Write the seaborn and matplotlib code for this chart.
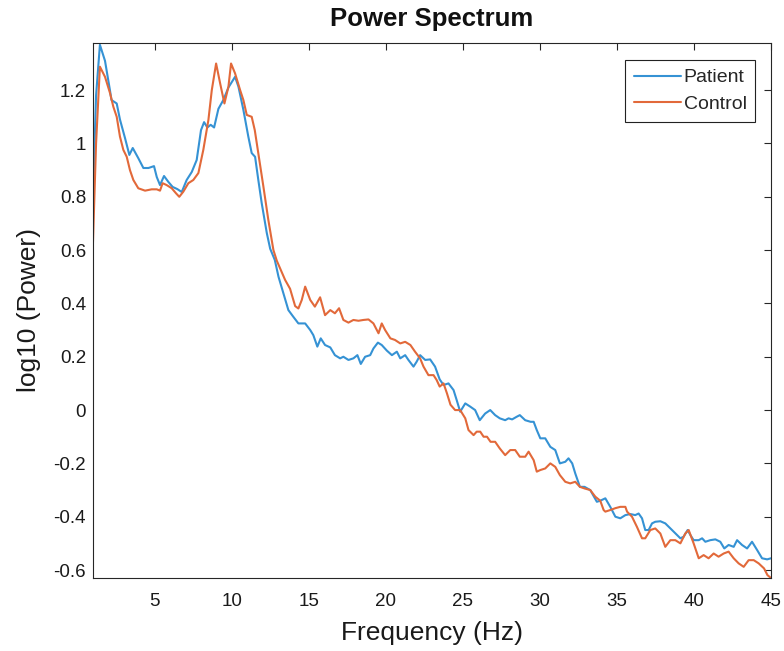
import numpy as np
import pandas as pd
import matplotlib
matplotlib.use("Agg")
import matplotlib.pyplot as plt
import seaborn as sns

# ---- data ----
patient_freq = [1.0, 1.2, 1.45, 1.78, 2.1, 2.2, 2.54, 2.75, 3.08, 3.36, 3.58, 3.94, 4.27, 4.6, 4.96,
                5.14, 5.35, 5.61, 5.89, 6.17, 6.47, 6.76, 7.08, 7.41, 7.73, 8.01, 8.21, 8.42, 8.64,
                8.86, 9.14, 9.46, 9.79, 10.22, 10.44, 10.76, 11.08, 11.3, 11.52, 11.73, 11.95,
                12.28, 12.5, 12.8, 13.04, 13.36, 13.68, 14.0, 14.33, 14.77, 15.1, 15.3, 15.56,
                15.78, 16.06, 16.4, 16.7, 17.04, 17.25, 17.58, 17.9, 18.16, 18.38, 18.66, 18.99,
                19.2, 19.49, 19.74, 20.07, 20.4, 20.72, 20.94, 21.26, 21.47, 21.8, 22.0, 22.23,
                22.56, 22.88, 23.2, 23.5, 23.75, 24.07, 24.4, 24.6, 24.83, 25.16, 25.48, 25.8,
                26.1, 26.45, 26.78, 27.1, 27.4, 27.75, 27.97, 28.2, 28.5, 28.7, 29.05, 29.4,
                29.6, 29.8, 30.03, 30.35, 30.68, 31.0, 31.3, 31.65, 31.86, 32.1, 32.3, 32.6,
                32.9, 33.27, 33.7, 33.92, 34.25, 34.57, 34.9, 35.22, 35.55, 35.87, 36.19, 36.41,
                36.63, 36.84, 37.06, 37.28, 37.49, 37.82, 38.14, 38.47, 38.79, 39.12, 39.33,
                39.59, 39.77, 39.98, 40.31, 40.53, 40.74, 41.06, 41.39, 41.71, 41.97, 42.25,
                42.58, 42.8, 43.12, 43.45, 43.77, 44.1, 44.42, 44.75, 45.0]
patient_power = [0.80, 1.18, 1.37, 1.31, 1.20, 1.163, 1.15, 1.09, 1.02, 0.957, 0.983, 0.945, 0.908,
                 0.908, 0.915, 0.874, 0.844, 0.878, 0.856, 0.837, 0.829, 0.818, 0.863, 0.893, 0.938,
                 1.05, 1.08, 1.06, 1.07, 1.06, 1.13, 1.163, 1.21, 1.25, 1.213, 1.126, 1.026, 0.964,
                 0.95, 0.863, 0.776, 0.664, 0.605, 0.563, 0.50, 0.438, 0.375, 0.35, 0.325, 0.325,
                 0.30, 0.281, 0.238, 0.269, 0.244, 0.235, 0.206, 0.194, 0.20, 0.188, 0.194, 0.206,
                 0.173, 0.20, 0.206, 0.231, 0.253, 0.244, 0.223, 0.206, 0.219, 0.194, 0.206, 0.188,
                 0.163, 0.181, 0.206, 0.188, 0.19, 0.163, 0.115, 0.094, 0.10, 0.075, 0.038, -0.006,
                 0.025, 0.013, 0.0, -0.038, -0.013, 0.0, -0.019, -0.031, -0.038, -0.031, -0.035,
                 -0.025, -0.019, -0.038, -0.044, -0.044, -0.075, -0.106, -0.106, -0.138, -0.15,
                 -0.20, -0.194, -0.181, -0.20, -0.238, -0.288, -0.288, -0.30, -0.344, -0.34,
                 -0.331, -0.363, -0.40, -0.406, -0.394, -0.39, -0.394, -0.388, -0.406, -0.45,
                 -0.45, -0.425, -0.419, -0.417, -0.425, -0.444, -0.463, -0.481, -0.475, -0.45,
                 -0.469, -0.488, -0.488, -0.481, -0.494, -0.488, -0.485, -0.494, -0.519, -0.506,
                 -0.513, -0.488, -0.506, -0.519, -0.494, -0.525, -0.556, -0.56, -0.556]

control_freq = [1.0, 1.2, 1.45, 1.78, 2.1, 2.32, 2.54, 2.75, 2.97, 3.19, 3.4, 3.62, 3.94, 4.38, 4.81,
                5.14, 5.35, 5.52, 5.78, 6.11, 6.39, 6.6, 6.86, 7.19, 7.51, 7.84, 8.16, 8.49, 8.71,
                8.99, 9.25, 9.53, 9.79, 9.96, 10.22, 10.55, 10.76, 10.98, 11.3, 11.5, 11.73, 12.06,
                12.38, 12.71, 12.93, 13.14, 13.47, 13.79, 14.12, 14.33, 14.55, 14.77, 15.1, 15.4,
                15.74, 16.06, 16.4, 16.7, 16.97, 17.25, 17.58, 17.9, 18.23, 18.55, 18.88, 19.2,
                19.53, 19.74, 19.96, 20.3, 20.6, 20.94, 21.26, 21.6, 21.9, 22.23, 22.45, 22.77,
                23.1, 23.3, 23.5, 23.75, 23.97, 24.2, 24.5, 24.83, 25.16, 25.37, 25.7, 25.9,
                26.13, 26.35, 26.57, 26.8, 27.1, 27.4, 27.75, 28.08, 28.4, 28.7, 29.05, 29.27,
                29.6, 29.8, 30.03, 30.35, 30.68, 31.0, 31.3, 31.65, 31.97, 32.3, 32.6, 32.9,
                33.27, 33.6, 33.92, 34.14, 34.25, 34.57, 34.9, 35.22, 35.55, 35.66, 35.98, 36.3,
                36.63, 36.84, 37.17, 37.49, 37.82, 38.14, 38.47, 38.79, 39.12, 39.44, 39.66,
                39.98, 40.31, 40.63, 40.95, 41.28, 41.6, 41.93, 42.25, 42.58, 42.9, 43.23, 43.55,
                43.88, 44.2, 44.55, 44.77, 45.0]
control_power = [0.63, 1.0, 1.288, 1.25, 1.19, 1.138, 1.10, 1.026, 0.976, 0.95, 0.90, 0.863, 0.832,
                 0.823, 0.828, 0.828, 0.823, 0.851, 0.844, 0.832, 0.813, 0.80, 0.819, 0.851, 0.863,
                 0.889, 0.976, 1.088, 1.20, 1.30, 1.226, 1.15, 1.213, 1.30, 1.263, 1.20, 1.163,
                 1.107, 1.10, 1.05, 0.963, 0.838, 0.713, 0.60, 0.56, 0.532, 0.488, 0.455, 0.39,
                 0.381, 0.413, 0.463, 0.413, 0.388, 0.423, 0.356, 0.375, 0.363, 0.382, 0.338,
                 0.328, 0.338, 0.335, 0.338, 0.34, 0.325, 0.288, 0.325, 0.30, 0.269, 0.263, 0.25,
                 0.256, 0.244, 0.219, 0.194, 0.163, 0.131, 0.131, 0.113, 0.088, 0.10, 0.063, 0.02,
                 0.0, 0.0, -0.031, -0.075, -0.094, -0.081, -0.081, -0.10, -0.10, -0.119, -0.119,
                 -0.144, -0.169, -0.15, -0.15, -0.175, -0.175, -0.156, -0.188, -0.231, -0.225,
                 -0.219, -0.20, -0.213, -0.244, -0.269, -0.275, -0.269, -0.288, -0.294, -0.30,
                 -0.325, -0.34, -0.375, -0.381, -0.375, -0.368, -0.363, -0.363, -0.381, -0.40,
                 -0.438, -0.481, -0.481, -0.45, -0.444, -0.463, -0.513, -0.488, -0.488, -0.50,
                 -0.463, -0.45, -0.50, -0.556, -0.544, -0.556, -0.538, -0.55, -0.538, -0.531,
                 -0.556, -0.575, -0.588, -0.563, -0.563, -0.575, -0.594, -0.619, -0.63]

groups = ["Patient", "Control"]
x_ticks = [5, 10, 15, 20, 25, 30, 35, 40, 45]
y_ticks = [-0.6, -0.4, -0.2, 0, 0.2, 0.4, 0.6, 0.8, 1.0, 1.2]
y_tick_labels = ["-0.6", "-0.4", "-0.2", "0", "0.2", "0.4", "0.6", "0.8", "1", "1.2"]

df = pd.concat([
    pd.DataFrame({"Frequency": patient_freq, "Power": patient_power, "Group": groups[0]}),
    pd.DataFrame({"Frequency": control_freq, "Power": control_power, "Group": groups[1]}),
], ignore_index=True)

sns.set_style("white")
plt.rcParams["font.family"] = ["Liberation Sans", "DejaVu Sans"]

fig = plt.figure(figsize=(7.84, 6.51), dpi=100)
ax = fig.add_axes([0.1186, 0.1121, 0.8648, 0.8219])

palette = {"Patient": "#3592D4", "Control": "#E2693A"}
sns.lineplot(data=df, x="Frequency", y="Power", hue="Group", hue_order=groups,
             palette=palette, estimator=None, sort=True, linewidth=1.5, ax=ax)

ax.set_xlim(1, 45)
ax.set_ylim(-0.63, 1.377)
ax.set_xticks(x_ticks)
ax.set_xticklabels([str(t) for t in x_ticks])
ax.set_yticks(y_ticks)
ax.set_yticklabels(y_tick_labels)
ax.tick_params(direction="in", length=5, width=0.8, colors="#262626", labelsize=13.5,
               top=True, right=True, labelcolor="#1a1a1a")
ax.tick_params(axis="x", pad=11)
ax.tick_params(axis="y", pad=5)
for s in ax.spines.values():
    s.set_visible(True)
    s.set_color("#262626")
    s.set_linewidth(0.8)

ax.set_xlabel("Frequency (Hz)", fontsize=19, color="#1a1a1a", labelpad=8)
ax.set_ylabel("log10 (Power)", fontsize=19, color="#1a1a1a", labelpad=9)
ax.set_title("Power Spectrum", fontsize=18.5, fontweight="bold", color="#111111", pad=12)

leg = ax.legend(loc="upper right", bbox_to_anchor=(0.977, 0.968), fontsize=14,
                frameon=True, fancybox=False, edgecolor="#222222", framealpha=1,
                handlelength=2.4, handletextpad=0.15, borderpad=0.45, labelspacing=0.45,
                borderaxespad=0)
leg.get_frame().set_linewidth(0.8)
leg.set_title(None)

fig.savefig("out.png", dpi=100)
